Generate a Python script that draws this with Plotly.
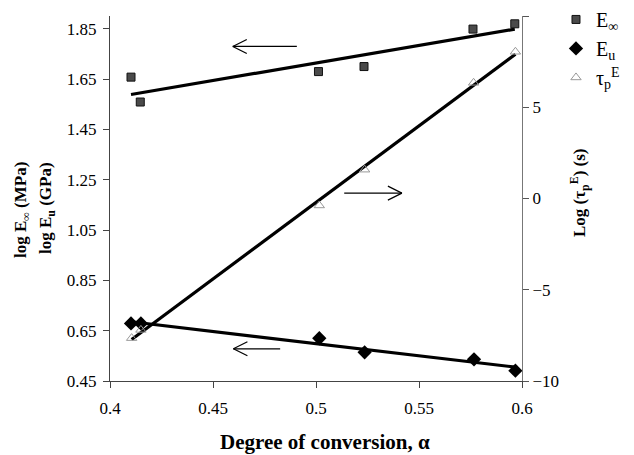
import numpy as np
import plotly.graph_objects as go

# Data
alpha_einf = [0.4102, 0.4147, 0.5012, 0.5233, 0.5762, 0.5965]
log_einf = [1.658, 1.559, 1.680, 1.700, 1.849, 1.870]

alpha_eu = [0.4102, 0.4150, 0.5016, 0.5236, 0.5767, 0.5968]
log_eu = [0.679, 0.679, 0.620, 0.564, 0.536, 0.491]

alpha_tau = [0.4105, 0.4150, 0.5016, 0.5236, 0.5765, 0.5968]
log_tau = [-7.65, -7.2, -0.38, 1.58, 6.34, 8.04]

left_ticks = [0.45, 0.65, 0.85, 1.05, 1.25, 1.45, 1.65, 1.85]
right_ticks = [-10, -5, 0, 5, 10]
x_ticks = [0.4, 0.45, 0.5, 0.55, 0.6]

FONT = "Liberation Serif"


def fit_line(x, y):
    k, b = np.polyfit(x, y, 1)
    xs = np.array([min(x), max(x)])
    return xs, k * xs + b


fig = go.Figure()

# Trend lines
for xs_, ys_, ax in [(alpha_einf, log_einf, "y"), (alpha_eu, log_eu, "y"), (alpha_tau, log_tau, "y2")]:
    lx, ly = fit_line(xs_, ys_)
    fig.add_trace(go.Scatter(x=lx, y=ly, mode="lines", yaxis=ax,
                             line=dict(color="black", width=3.2), showlegend=False,
                             hoverinfo="skip"))

fig.add_trace(go.Scatter(x=alpha_einf, y=log_einf, mode="markers", name="E<sub>∞</sub>",
                         marker=dict(symbol="square", size=8, color="#4a4a4a",
                                     line=dict(color="#111", width=1))))
fig.add_trace(go.Scatter(x=alpha_eu, y=log_eu, mode="markers", name="E<sub>u</sub>",
                         marker=dict(symbol="diamond", size=11, color="black")))
fig.add_trace(go.Scatter(x=alpha_tau, y=log_tau, mode="markers", yaxis="y2",
                         name="τ<sub>p</sub><sup>E</sup>",
                         marker=dict(symbol="triangle-up-open", size=9, color="#999",
                                     line=dict(width=1))))

# Arrows (annotation shapes, in data coords of left axis)
hx = 14 / 2058.0   # head length in x units
hy = 7 / 251.5     # head half-height in left-axis units
arrows = [  # (tail_x, head_x, y)
    (0.4907, 0.4596, 1.780),
    (0.5137, 0.5417, 1.197),
    (0.4826, 0.4599, 0.578),
]
shapes = []
for tx, hxp, yy in arrows:
    d = 1 if hxp > tx else -1
    shapes.append(dict(type="line", xref="x", yref="y", x0=tx, x1=hxp, y0=yy, y1=yy,
                       line=dict(color="black", width=1.2)))
    for s in (1, -1):
        shapes.append(dict(type="line", xref="x", yref="y", x0=hxp, y0=yy,
                           x1=hxp - d * hx, y1=yy + s * hy,
                           line=dict(color="black", width=1.2)))

annotations = [
    dict(text="<b>log E<sub>∞</sub> (MPa)</b>", x=-0.2136, y=0.4685, textangle=-90,
         font=dict(size=17)),
    dict(text="<b>log E<sub>u</sub> (GPa)</b>", x=-0.1529, y=0.474, textangle=-90,
         font=dict(size=17)),
    dict(text="<b>Log (τ<sub>p</sub><sup>E</sup>) (s)</b>", x=1.1383, y=0.5178, textangle=-90,
         font=dict(size=17)),
    dict(text="<b>Degree of conversion, α</b>", x=0.5218, y=-0.167, font=dict(size=21)),
]
for a in annotations:
    a.update(xref="paper", yref="paper", xanchor="center", yanchor="middle", showarrow=False)

fig.update_layout(
    width=626, height=447,
    margin=dict(l=102, r=112, t=8, b=74, autoexpand=False),
    plot_bgcolor="white", paper_bgcolor="white",
    font=dict(family=FONT, size=17, color="black"),
    shapes=shapes,
    annotations=annotations,
    showlegend=True,
    legend=dict(x=1.0825, y=1.044, xanchor="left", yanchor="top",
                font=dict(family=FONT, size=20), bgcolor="rgba(0,0,0,0)",
                itemwidth=30, tracegroupgap=2),
    xaxis=dict(range=[0.4, 0.6], tickvals=x_ticks, ticktext=["0.4", "0.45", "0.5", "0.55", "0.6"],
               showgrid=False, zeroline=False, showline=True, linecolor="#444", linewidth=1,
               ticks="outside", ticklen=6, tickcolor="#444", automargin=False,
               ticklabelstandoff=6),
    yaxis=dict(range=[0.45, 1.901], tickvals=left_ticks,
               ticktext=[f"{v:.2f}" for v in left_ticks],
               showgrid=False, zeroline=False, showline=True, linecolor="#444", linewidth=1,
               ticks="outside", ticklen=6, tickcolor="#444", automargin=False,
               ticklabelstandoff=3),
    yaxis2=dict(range=[-10, 10], tickvals=right_ticks, overlaying="y", side="right",
                showgrid=False, zeroline=False, showline=True, linecolor="#777", linewidth=1,
                ticks="outside", ticklen=6, tickcolor="#555", automargin=False),
)

fig.write_html("out.html")
